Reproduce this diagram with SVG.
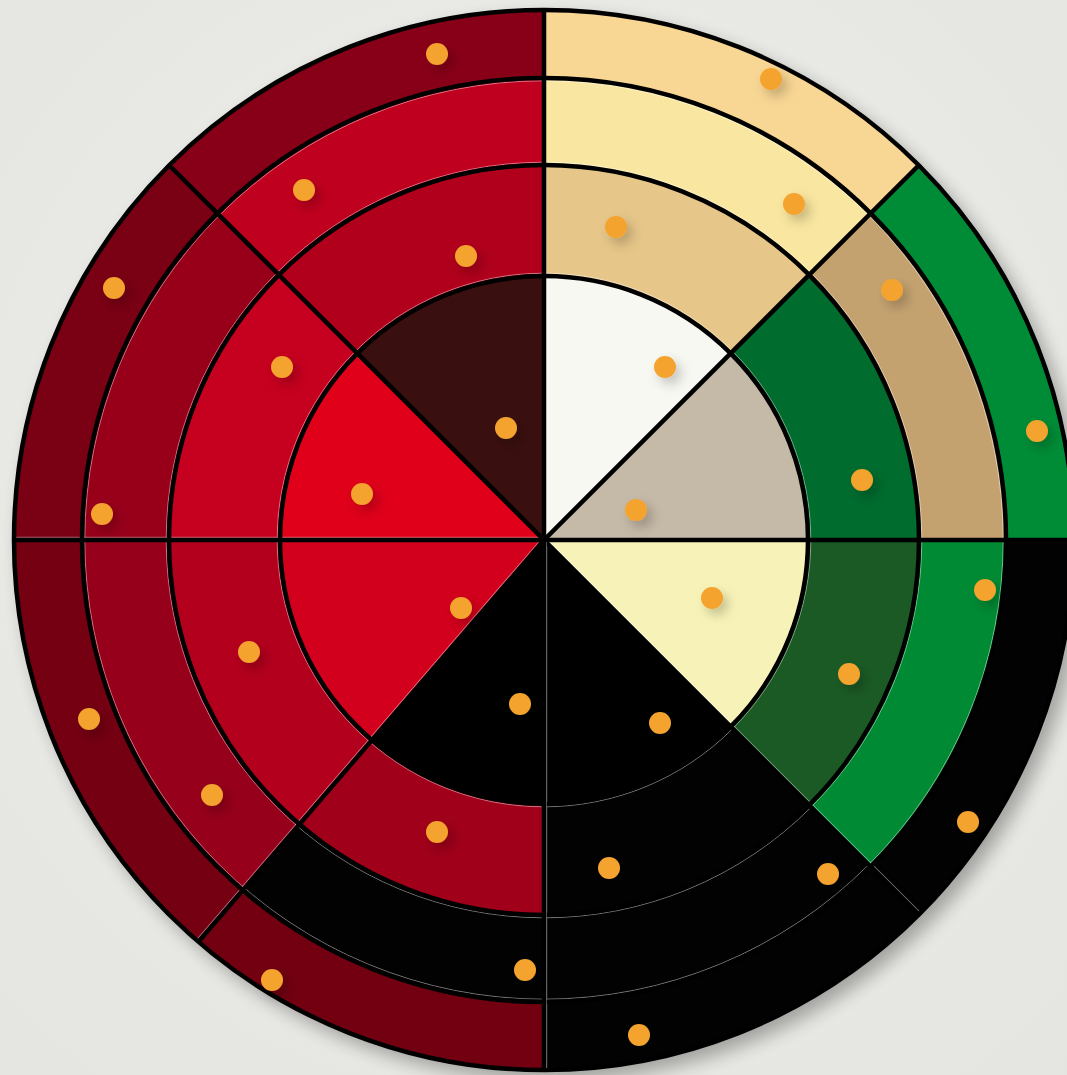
<svg xmlns="http://www.w3.org/2000/svg" width="1067" height="1075" viewBox="0 0 1067 1075">
  <defs>
    <radialGradient id="bg" cx="50%" cy="45%" r="75%">
      <stop offset="0" stop-color="#f0f0ed"/>
      <stop offset="1" stop-color="#e4e4e0"/>
    </radialGradient>
    <filter id="wheelShadow" x="-10%" y="-10%" width="120%" height="120%">
      <feGaussianBlur stdDeviation="9"/>
    </filter>
    <filter id="dotShadow" x="-150%" y="-150%" width="400%" height="400%">
      <feDropShadow dx="5" dy="6" stdDeviation="6" flood-color="#000" flood-opacity="0.22"/>
    </filter>
  </defs>
  <style>
    .line { stroke: #000; stroke-width: 4.5; fill: none; }
    .ring { stroke: #000; stroke-width: 4.5; fill: none; }
    .hl { stroke: #ffffff; stroke-width: 1; stroke-opacity: 0.45; fill: none; }
    .dot { fill: #f3a32e; }
  </style>
  <rect x="0" y="0" width="1067" height="1075" fill="url(#bg)"/>
  <circle cx="552" cy="549" r="532" fill="#000" opacity="0.3" filter="url(#wheelShadow)"/>

  <g id="ring4">
    <path id="r4-a" fill="#020202" d="M544,540 L1074,540 A530,530 0 0 1 918.77,914.77 Z"/>
    <path id="r4-b" fill="#020202" d="M544,540 L918.77,914.77 A530,530 0 0 1 544,1070 Z"/>
    <path id="r4-c" fill="#720010" d="M544,540 L544,1070 A530,530 0 0 1 198.39,941.81 Z"/>
    <path id="r4-d" fill="#740012" d="M544,540 L198.39,941.81 A530,530 0 0 1 14,540 Z"/>
    <path id="r4-e" fill="#7a0014" d="M544,540 L14,540 A530,530 0 0 1 169.23,165.23 Z"/>
    <path id="r4-f" fill="#880018" d="M544,540 L169.23,165.23 A530,530 0 0 1 544,10 Z"/>
    <path id="r4-g" fill="#f8d694" d="M544,540 L544,10 A530,530 0 0 1 918.77,165.23 Z"/>
    <path id="r4-h" fill="#008c36" d="M544,540 L918.77,165.23 A530,530 0 0 1 1074,540 Z"/>
  </g>
  <g id="ring3">
    <path id="r3-a" fill="#008a34" d="M544,540 L1006,540 A462,462 0 0 1 870.68,866.68 Z"/>
    <path id="r3-b" fill="#020202" d="M544,540 L870.68,866.68 A462,462 0 0 1 544,1002 Z"/>
    <path id="r3-c" fill="#020202" d="M544,540 L544,1002 A462,462 0 0 1 242.73,890.26 Z"/>
    <path id="r3-d" fill="#96001a" d="M544,540 L242.73,890.26 A462,462 0 0 1 82,540 Z"/>
    <path id="r3-e" fill="#98001a" d="M544,540 L82,540 A462,462 0 0 1 217.32,213.32 Z"/>
    <path id="r3-f" fill="#bf001e" d="M544,540 L217.32,213.32 A462,462 0 0 1 544,78 Z"/>
    <path id="r3-g" fill="#f9e6a0" d="M544,540 L544,78 A462,462 0 0 1 870.68,213.32 Z"/>
    <path id="r3-h" fill="#c4a270" d="M544,540 L870.68,213.32 A462,462 0 0 1 1006,540 Z"/>
  </g>
  <g id="ring2">
    <path id="r2-a" fill="#1b5a25" d="M544,540 L919,540 A375,375 0 0 1 809.17,805.17 Z"/>
    <path id="r2-b" fill="#020202" d="M544,540 L809.17,805.17 A375,375 0 0 1 544,915 Z"/>
    <path id="r2-c" fill="#a0001a" d="M544,540 L544,915 A375,375 0 0 1 299.46,824.30 Z"/>
    <path id="r2-d" fill="#b3001d" d="M544,540 L299.46,824.30 A375,375 0 0 1 169,540 Z"/>
    <path id="r2-e" fill="#c6001f" d="M544,540 L169,540 A375,375 0 0 1 278.83,274.83 Z"/>
    <path id="r2-f" fill="#b0001c" d="M544,540 L278.83,274.83 A375,375 0 0 1 544,165 Z"/>
    <path id="r2-g" fill="#e6c689" d="M544,540 L544,165 A375,375 0 0 1 809.17,274.83 Z"/>
    <path id="r2-h" fill="#006c2e" d="M544,540 L809.17,274.83 A375,375 0 0 1 919,540 Z"/>
  </g>
  <g id="ring1">
    <path id="r1-a" fill="#f7f3b8" d="M544,540 L808,540 A264,264 0 0 1 730.68,726.68 Z"/>
    <path id="r1-b" fill="#000000" d="M544,540 L730.68,726.68 A264,264 0 0 1 544,804 Z"/>
    <path id="r1-c" fill="#000000" d="M544,540 L544,804 A264,264 0 0 1 371.85,740.15 Z"/>
    <path id="r1-d" fill="#d2001c" d="M544,540 L371.85,740.15 A264,264 0 0 1 280,540 Z"/>
    <path id="r1-e" fill="#e0001a" d="M544,540 L280,540 A264,264 0 0 1 357.32,353.32 Z"/>
    <path id="r1-f" fill="#3a0f0f" d="M544,540 L357.32,353.32 A264,264 0 0 1 544,276 Z"/>
    <path id="r1-g" fill="#f8f8f3" d="M544,540 L544,276 A264,264 0 0 1 730.68,353.32 Z"/>
    <path id="r1-h" fill="#c5b9a7" d="M544,540 L730.68,353.32 A264,264 0 0 1 808,540 Z"/>
  </g>

  <g id="connectors">
    <g id="highlights">
      <circle class="hl" cx="544" cy="540" r="266.8"/>
      <circle class="hl" cx="544" cy="540" r="377.8"/>
      <circle class="hl" cx="544" cy="540" r="459.2"/>
      <line class="hl" x1="544" y1="537.3" x2="1074" y2="537.3" transform="rotate(90 544 540)"/>
      <line class="hl" x1="544" y1="542.7" x2="1074" y2="542.7" transform="rotate(180 544 540)"/>
      <line class="hl" x1="544" y1="542.7" x2="1074" y2="542.7" transform="rotate(130.7 544 540)" stroke-opacity="0.3"/>
      <line class="hl" x1="544" y1="537.3" x2="1074" y2="537.3" transform="rotate(45 544 540)" stroke-opacity="0.25"/>
    </g>
    <g id="rings">
      <circle class="ring" cx="544" cy="540" r="264"/>
      <circle class="ring" cx="544" cy="540" r="375"/>
      <circle class="ring" cx="544" cy="540" r="462"/>
      <circle class="ring" cx="544" cy="540" r="530" stroke-width="5"/>
    </g>
    <g id="spokes">
      <line class="line" x1="544" y1="540" x2="1074" y2="540"/>
      <line class="line" x1="544" y1="540" x2="1074" y2="540" transform="rotate(45 544 540)"/>
      <line class="line" x1="544" y1="540" x2="1074" y2="540" transform="rotate(90 544 540)"/>
      <line class="line" x1="544" y1="540" x2="1074" y2="540" transform="rotate(130.7 544 540)"/>
      <line class="line" x1="544" y1="540" x2="1074" y2="540" transform="rotate(180 544 540)"/>
      <line class="line" x1="544" y1="540" x2="1074" y2="540" transform="rotate(225 544 540)"/>
      <line class="line" x1="544" y1="540" x2="1074" y2="540" transform="rotate(270 544 540)"/>
      <line class="line" x1="544" y1="540" x2="1074" y2="540" transform="rotate(315 544 540)"/>
    </g>
    <g id="lowlights" stroke="#6a6a6a" stroke-width="1" fill="none" opacity="0.8">
      <line x1="546.5" y1="542" x2="546.5" y2="1068"/>
    </g>
  </g>

  <g id="markers" filter="url(#dotShadow)">
    <circle class="dot" cx="437" cy="54" r="11"/>
    <circle class="dot" cx="771" cy="79" r="11"/>
    <circle class="dot" cx="304" cy="190" r="11"/>
    <circle class="dot" cx="794" cy="204" r="11"/>
    <circle class="dot" cx="466" cy="256" r="11"/>
    <circle class="dot" cx="616" cy="227" r="11"/>
    <circle class="dot" cx="114" cy="288" r="11"/>
    <circle class="dot" cx="892" cy="290" r="11"/>
    <circle class="dot" cx="282" cy="367" r="11"/>
    <circle class="dot" cx="665" cy="367" r="11"/>
    <circle class="dot" cx="506" cy="428" r="11"/>
    <circle class="dot" cx="1037" cy="431" r="11"/>
    <circle class="dot" cx="362" cy="494" r="11"/>
    <circle class="dot" cx="862" cy="480" r="11"/>
    <circle class="dot" cx="102" cy="514" r="11"/>
    <circle class="dot" cx="636" cy="510" r="11"/>
    <circle class="dot" cx="985" cy="590" r="11"/>
    <circle class="dot" cx="461" cy="608" r="11"/>
    <circle class="dot" cx="712" cy="598" r="11"/>
    <circle class="dot" cx="249" cy="652" r="11"/>
    <circle class="dot" cx="849" cy="674" r="11"/>
    <circle class="dot" cx="89" cy="719" r="11"/>
    <circle class="dot" cx="520" cy="704" r="11"/>
    <circle class="dot" cx="660" cy="723" r="11"/>
    <circle class="dot" cx="212" cy="795" r="11"/>
    <circle class="dot" cx="968" cy="822" r="11"/>
    <circle class="dot" cx="437" cy="832" r="11"/>
    <circle class="dot" cx="609" cy="868" r="11"/>
    <circle class="dot" cx="828" cy="874" r="11"/>
    <circle class="dot" cx="272" cy="980" r="11"/>
    <circle class="dot" cx="525" cy="970" r="11"/>
    <circle class="dot" cx="639" cy="1035" r="11"/>
  </g>
</svg>
